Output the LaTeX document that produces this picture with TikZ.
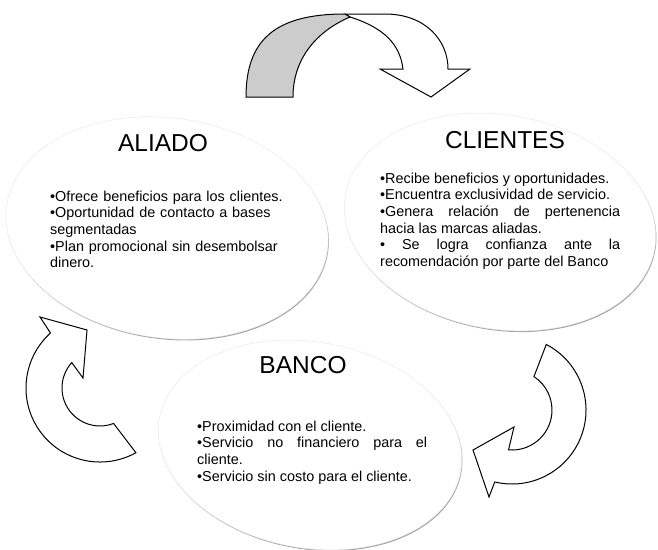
\documentclass[tikz,border=0pt]{standalone}
\usepackage{fontspec}
\setmainfont{Liberation Sans}
\usetikzlibrary{calc}
\begin{document}
\begin{tikzpicture}[x=1pt,y=1pt,
  bubbleshadow/.style={fill=black!35},
  bubble/.style={fill=white, draw=black!10, line width=0.4pt},
  titletext/.style={font=\fontsize{24.5}{28}\selectfont, inner sep=0pt},
  bodytext/.style={font=\fontsize{14.4}{16.67}\selectfont, inner sep=0pt, anchor=north west, align=justify},
  blockarrow/.style={draw=black, line width=1pt, fill=white, line join=miter},
  backband/.style={draw=black, line width=1pt, fill=black!20, line join=miter}]
\useasboundingbox (0,0) rectangle (658,-549);
% bubbles
\fill[bubbleshadow] (310.7,-446.2) ellipse [x radius=153, y radius=103, rotate=-10];
\path[bubble] (310,-445) ellipse [x radius=153, y radius=103, rotate=-10];
\fill[bubbleshadow] (167.7,-229.2) ellipse [x radius=162, y radius=110, rotate=-8];
\path[bubble] (167,-228) ellipse [x radius=162, y radius=110, rotate=-8];
\fill[bubbleshadow] (500.7,-223.2) ellipse [x radius=157, y radius=107, rotate=-10];
\path[bubble] (500,-222) ellipse [x radius=157, y radius=107, rotate=-10];
% top arrow
\draw[blockarrow] (345,-14) -- (385,-14) .. controls (425,-14) and (448,-40) .. (448,-69)
  -- (470,-69) -- (431,-97) -- (380,-69) -- (403,-69)
  .. controls (400,-45) and (385,-28) .. (350,-17) -- cycle;
\draw[backband] (246,-97) .. controls (246,-40) and (275,-14) .. (345,-14) -- (350,-17)
  .. controls (315,-32) and (293,-60) .. (293,-97) -- cycle;
% left arrow
\draw[blockarrow] (40,-317) -- (87,-330) -- (83,-378) -- ($(100,-388)+(138:38)$)
  arc[start angle=138, end angle=291, radius=38] -- ($(100,-388)+(299:74)$)
  arc[start angle=299, end angle=132, radius=74] -- cycle;
% right arrow
\draw[blockarrow] ($(512,-410)+(56.7:40)$) -- ($(512,-410)+(62.4:74)$)
  arc[start angle=62.4, end angle=-103.5, radius=74] -- (489,-497) -- (473,-450)
  -- (514,-427) -- ($(512,-410)+(265:40)$) arc[start angle=-95, end angle=56.7, radius=40] -- cycle;
% texts
\node[titletext] (aliadoT) at (163,-143.5) {ALIADO};
\node[titletext] (clientesT) at (505,-140) {CLIENTES};
\node[titletext] (bancoT) at (303,-365) {BANCO};
\node[bodytext, text width=260pt, align=left] (aliadoB) at (50,-190.5)
  {•Ofrece beneficios para los clientes.\\•Oportunidad de contacto a bases\\segmentadas\\•Plan promocional sin desembolsar\\dinero.};
\node[bodytext, text width=240pt] (clientesB) at (380,-172.5)
  {•Recibe beneficios y oportunidades.\\•Encuentra exclusividad de servicio.\\•Genera relación de pertenencia\linebreak hacia las marcas aliadas.\\• Se logra confianza ante la\linebreak recomendación por parte del Banco};
\node[bodytext, text width=230pt] (bancoB) at (197,-420.5)
  {•Proximidad con el cliente.\\•Servicio no financiero para el\linebreak cliente.\\•Servicio sin costo para el cliente.};
\end{tikzpicture}
\end{document}
